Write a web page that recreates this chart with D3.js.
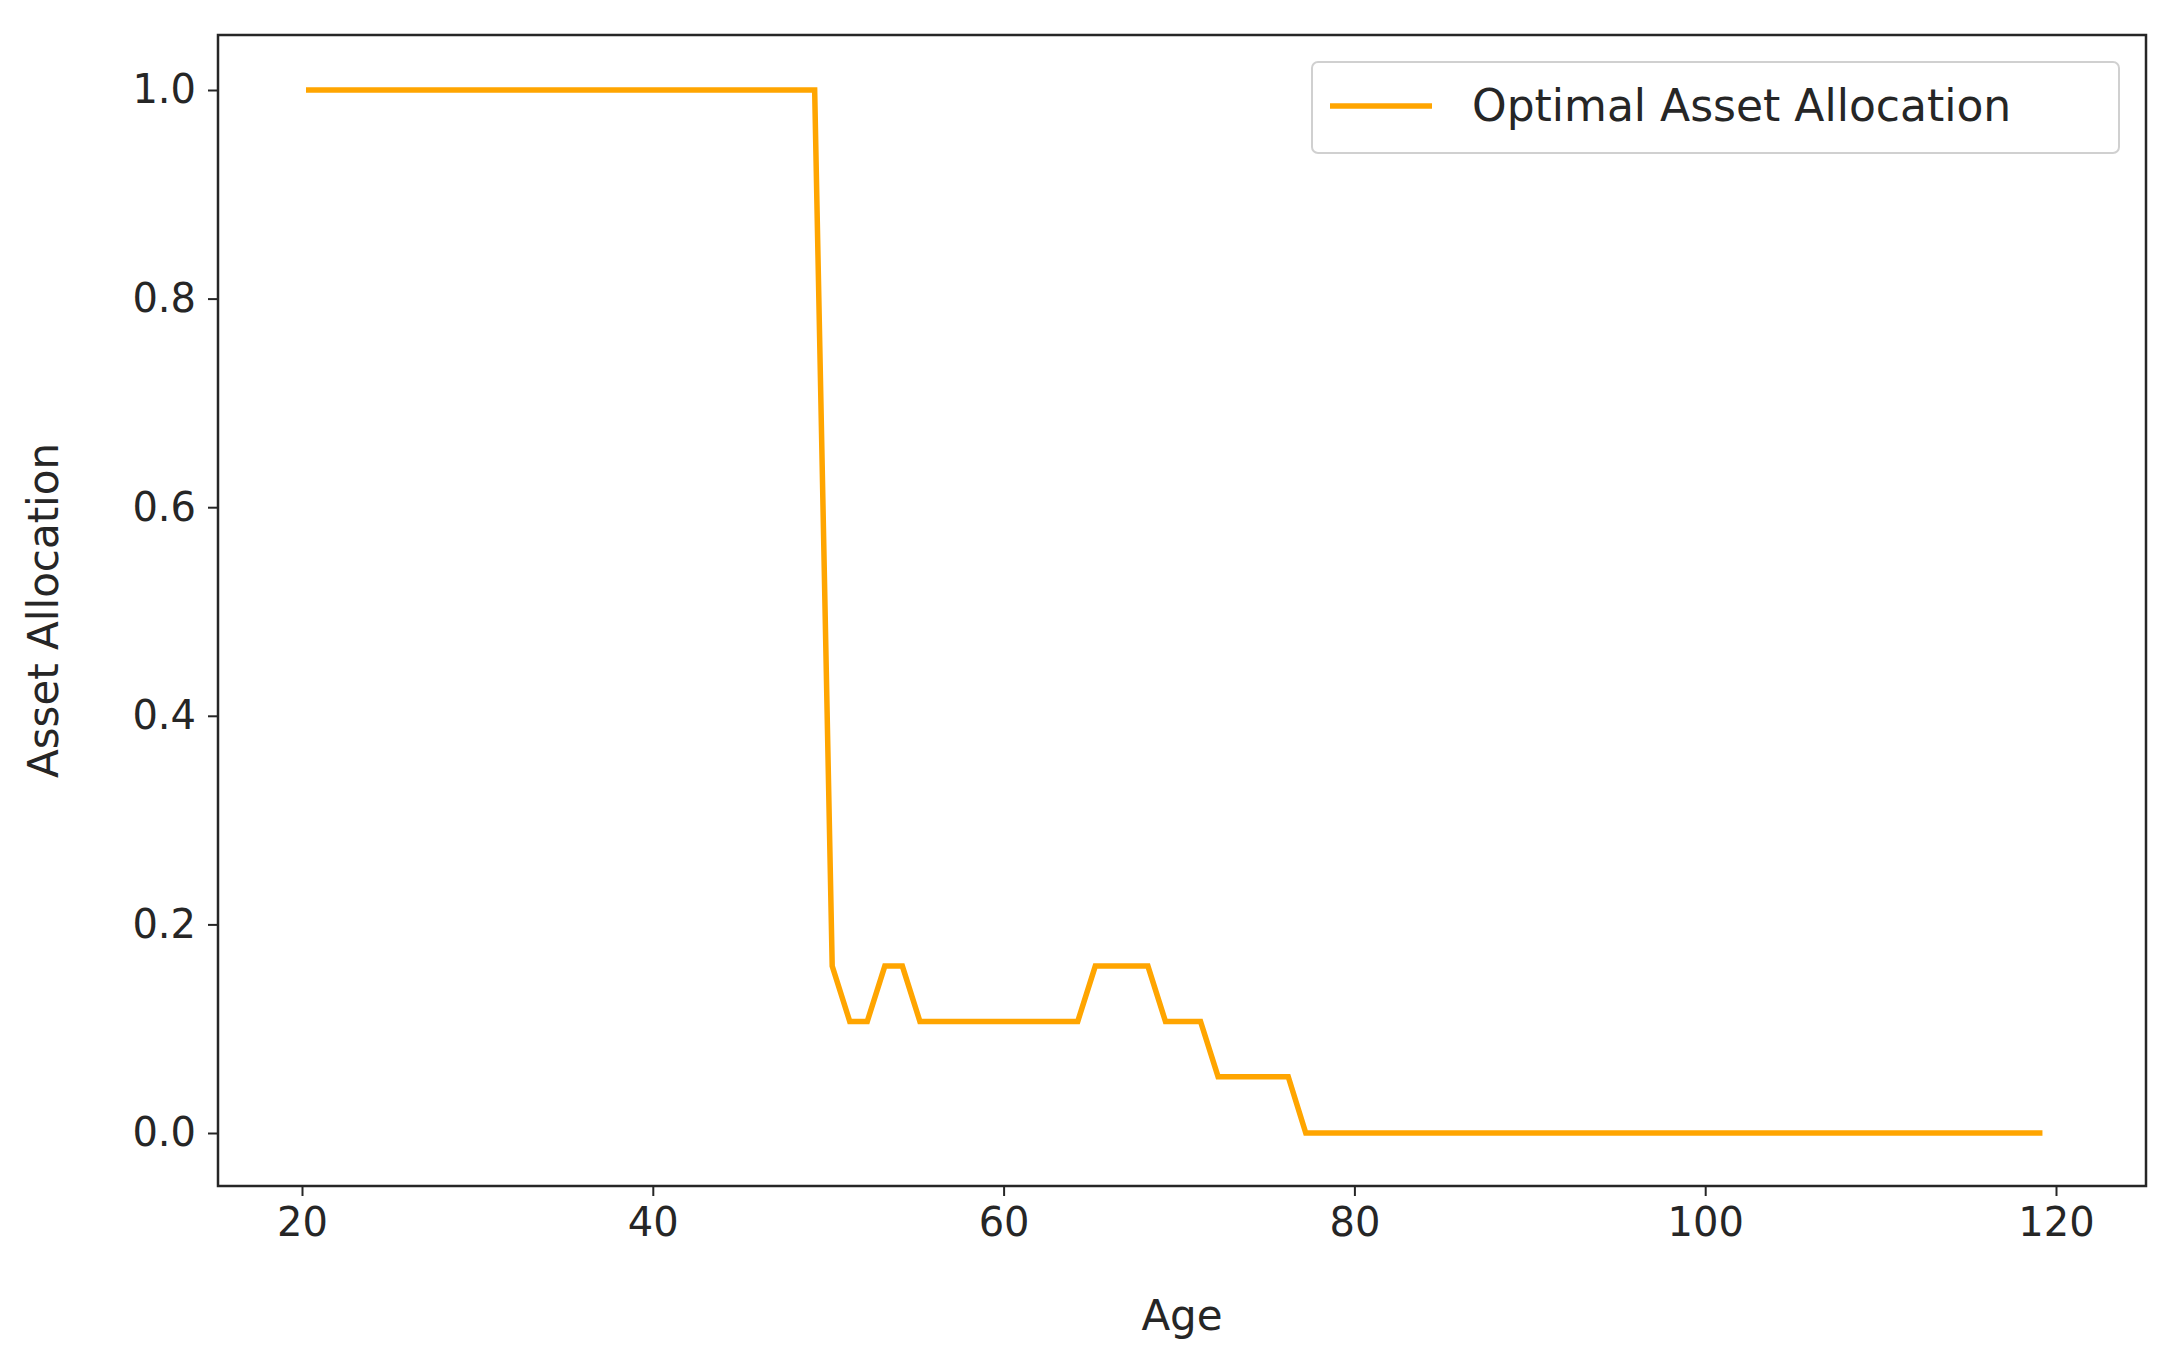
<!DOCTYPE html>
<html><head><meta charset="utf-8">
<script src="https://cdn.jsdelivr.net/npm/d3@7"></script>
<style>body{margin:0;background:#fff}text{font-family:"DejaVu Sans",sans-serif;fill:#262626}</style>
</head><body><svg id="c" width="2164" height="1360"></svg>
<script>
const ages = d3.range(20, 120);
const allocation = [
 1,1,1,1,1,1,1,1,1,1, 1,1,1,1,1,1,1,1,1,1, 1,1,1,1,1,1,1,1,1,1, // 20-49
 0.16,0.107,0.107,0.16,0.16, // 50-54
 0.107,0.107,0.107,0.107,0.107,0.107,0.107,0.107,0.107,0.107, // 55-64
 0.16,0.16,0.16,0.16, // 65-68
 0.107,0.107,0.107, // 69-71
 0.054,0.054,0.054,0.054,0.054, // 72-76
];
while (allocation.length < ages.length) allocation.push(0);
const xTicks = [20,40,60,80,100,120];
const yTicks = [0,0.2,0.4,0.6,0.8,1.0];

const svg = d3.select("#c");
const L=218,R=2146,T=35,B=1186;
const x = d3.scaleLinear().domain([20,120]).range([302,2056]);
const y = d3.scaleLinear().domain([0,1]).range([1133,90]);

svg.append("rect").attr("x",L).attr("y",T).attr("width",R-L).attr("height",B-T)
  .attr("fill","none").attr("stroke","#262626").attr("stroke-width",2.5);

const gx = svg.append("g").attr("transform",`translate(0,${B})`)
  .call(d3.axisBottom(x).tickValues(xTicks).tickSize(10).tickPadding(12).tickFormat(d3.format("d")));
const gy = svg.append("g").attr("transform",`translate(${L},0)`)
  .call(d3.axisLeft(y).tickValues(yTicks).tickSize(10).tickPadding(12).tickFormat(d3.format(".1f")));
[gx,gy].forEach(g=>{g.select(".domain").remove();
  g.selectAll("line").attr("stroke","#262626").attr("stroke-width",2);
  g.selectAll("text").style("font-size","40px").attr("fill","#262626");});

svg.append("path").datum(ages.map((a,i)=>[a,allocation[i]]))
  .attr("d",d3.line().x(d=>x(d[0])+4).y(d=>y(d[1])))
  .attr("fill","none").attr("stroke","#FFA500").attr("stroke-width",5.5);

svg.append("text").attr("x",(L+R)/2).attr("y",1330).attr("text-anchor","middle")
  .style("font-size","42px").text("Age");
svg.append("text").attr("transform",`translate(58,${(T+B)/2}) rotate(-90)`).attr("text-anchor","middle")
  .style("font-size","42px").text("Asset Allocation");

const lg = svg.append("g");
lg.append("rect").attr("x",1312).attr("y",62).attr("width",807).attr("height",91).attr("rx",6)
  .attr("fill","#fff").attr("stroke","#d0d0d0").attr("stroke-width",2);
lg.append("line").attr("x1",1330).attr("x2",1432).attr("y1",106).attr("y2",106)
  .attr("stroke","#FFA500").attr("stroke-width",5.5);
lg.append("text").attr("x",1472).attr("y",121).style("font-size","44px").text("Optimal Asset Allocation");
</script></body></html>
